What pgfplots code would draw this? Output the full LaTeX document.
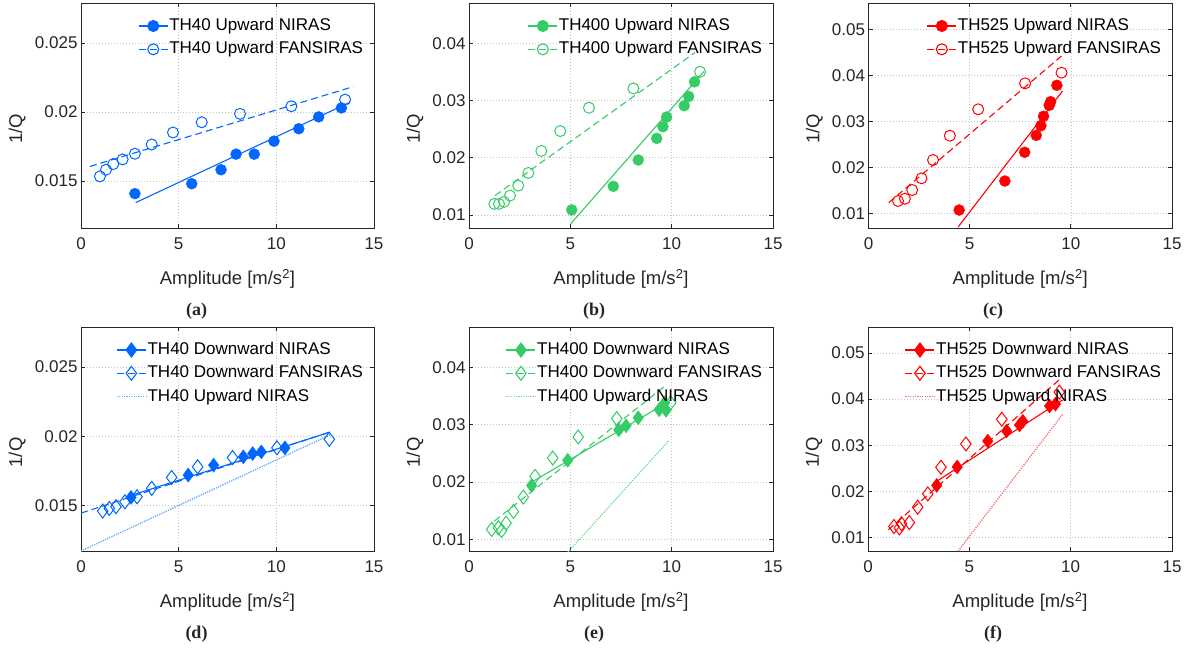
\documentclass[border=0pt]{standalone}
\usepackage{fontspec}
\setmainfont{Liberation Sans}
\newfontfamily\capfont{Liberation Serif}
\usepackage{pgfplots}
\pgfplotsset{compat=1.18}

\definecolor{cblue}{RGB}{0,102,255}
\definecolor{cgreen}{RGB}{51,204,102}
\definecolor{cred}{RGB}{255,0,0}
\definecolor{lblue}{RGB}{100,165,255}
\definecolor{lgreen}{RGB}{120,222,150}
\definecolor{lred}{RGB}{255,110,110}
\definecolor{axgray}{RGB}{38,38,38}
\definecolor{gridgray}{RGB}{195,195,195}

\pgfplotsset{
  panel/.style={
    scale only axis, anchor=south west,
    xmin=0, xmax=15, xtick={0,5,10,15},
    axis line style={draw=axgray, line width=0.7pt},
    tick style={draw=axgray, line width=0.7pt},
    tick align=inside, xtick pos=both, ytick pos=both,
    major tick length=4pt,
    grid=major,
    major grid style={draw=gridgray, dash pattern=on 1pt off 2pt, line width=0.6pt},
    ticklabel style={font=\fontsize{17}{20}\selectfont, text=axgray},
    xticklabel shift=6pt,
    /pgf/number format/assume math mode=true,
    scaled y ticks=false,
    y tick label style={/pgf/number format/fixed, /pgf/number format/precision=3},
    xlabel={Amplitude [m/s\textsuperscript{2}]},
    ylabel={1/Q},
    label style={font=\fontsize{18.5}{22}\selectfont, text=axgray},
    xlabel style={at={(axis description cs:0.5,0)}, anchor=center, yshift=-51pt},
    legend cell align=left,
    legend style={at={(rel axis cs:1,1)}, anchor=north east, xshift=-10pt, yshift=-14pt,
      draw=none, fill=none, inner sep=0pt, outer sep=0pt, row sep=5.3pt,
      font=\fontsize{17}{20}\selectfont,
      nodes={inner sep=1pt, text height=12.5pt, text depth=3.5pt}},
    legend image code/.code={\draw[mark repeat=2,mark phase=2] plot coordinates {(0pt,0pt) (14.5pt,0pt) (29pt,0pt)};},
  },
  narrowy/.style={ylabel style={at={(axis description cs:-0.218,0.44)}, anchor=center}},
  widey/.style={ylabel style={at={(axis description cs:-0.178,0.44)}, anchor=center}},
  lsolid/.style={line width=1.1pt, no marks, forget plot},
  ldash/.style={line width=1.1pt, dash pattern=on 7pt off 4pt, no marks, forget plot},
  ldot/.style={line width=1.4pt, dash pattern=on 1.2pt off 1.2pt, no marks, forget plot},
  fcirc/.style={only marks, mark=*, mark size=5.5pt, forget plot},
  ocirc/.style={only marks, mark=o, mark size=5.5pt, mark options={line width=1pt}, forget plot},
  fdiam/.style={only marks, mark=diamond*, mark size=7pt, forget plot},
  odiam/.style={only marks, mark=diamond, mark size=7pt, mark options={line width=1pt}, forget plot},
}

\begin{document}
\begin{tikzpicture}[x=1pt,y=1pt]
\useasboundingbox (0,0) rectangle (1193,653);

% (a)
\begin{axis}[panel, narrowy, at={(81pt,425pt)}, width=293pt, height=225pt,
  ymin=0.0116, ymax=0.0279, ytick={0.015,0.02,0.025}]
\addlegendimage{cblue, line width=1.1pt, mark=*, mark size=5.5pt}
\addlegendentry{TH40 Upward NIRAS}
\addlegendimage{cblue, line width=1.1pt, dash pattern=on 7pt off 4pt, mark=o, mark size=5.5pt, mark options={solid}}
\addlegendentry{TH40 Upward FANSIRAS}
\addplot[lsolid, cblue] coordinates {(2.8,0.01344)(13.77,0.02071)};
\addplot[ldash, cblue] coordinates {(0.46,0.01606)(13.94,0.02184)};
\addplot[fcirc, cblue] coordinates {(2.76,0.01409)(5.67,0.01481)(7.17,0.01582)(7.94,0.01695)(8.87,0.01695)(9.88,0.01789)(11.15,0.01879)(12.17,0.01965)(13.33,0.0203)};
\addplot[ocirc, cblue] coordinates {(0.97,0.01534)(1.28,0.01582)(1.65,0.01623)(2.13,0.01657)(2.76,0.01698)(3.62,0.01765)(4.71,0.01852)(6.18,0.01926)(8.14,0.01987)(10.77,0.02042)(13.52,0.0209)};
\end{axis}

% (b)
\begin{axis}[panel, widey, at={(469pt,425pt)}, width=304pt, height=225pt,
  ymin=0.0077, ymax=0.0471, ytick={0.01,0.02,0.03,0.04}]
\addlegendimage{cgreen, line width=1.1pt, mark=*, mark size=5.5pt}
\addlegendentry{TH400 Upward NIRAS}
\addlegendimage{cgreen, line width=1.1pt, dash pattern=on 7pt off 4pt, mark=o, mark size=5.5pt, mark options={solid}}
\addlegendentry{TH400 Upward FANSIRAS}
\addplot[lsolid, cgreen] coordinates {(5.02,0.00843)(11.59,0.0351)};
\addplot[ldash, cgreen] coordinates {(1.28,0.01337)(11.15,0.03842)};
\addplot[fcirc, cgreen] coordinates {(5.07,0.01087)(7.12,0.0150)(8.35,0.01961)(9.26,0.02339)(9.57,0.02543)(9.75,0.02713)(10.62,0.0291)(10.84,0.03073)(11.13,0.0333)};
\addplot[ocirc, cgreen] coordinates {(1.25,0.01192)(1.48,0.01192)(1.73,0.01227)(2.02,0.01337)(2.43,0.01512)(2.93,0.01734)(3.57,0.02119)(4.50,0.02468)(5.92,0.02876)(8.11,0.03213)(11.40,0.03505)};
\end{axis}

% (c)
\begin{axis}[panel, widey, at={(868.5pt,425pt)}, width=303.5pt, height=225pt,
  ymin=0.0069, ymax=0.0557, ytick={0.01,0.02,0.03,0.04,0.05}]
\addlegendimage{cred, line width=1.1pt, mark=*, mark size=5.5pt}
\addlegendentry{TH525 Upward NIRAS}
\addlegendimage{cred, line width=1.1pt, dash pattern=on 7pt off 4pt, mark=o, mark size=5.5pt, mark options={solid}}
\addlegendentry{TH525 Upward FANSIRAS}
\addplot[lsolid, cred] coordinates {(4.43,0.00712)(9.59,0.03661)};
\addplot[ldash, cred] coordinates {(1.0,0.01239)(9.54,0.0442)};
\addplot[fcirc, cred] coordinates {(4.48,0.0108)(6.74,0.01709)(7.72,0.02332)(8.29,0.0270)(8.52,0.02909)(8.65,0.03113)(8.93,0.03351)(9.0,0.03429)(9.31,0.03785)};
\addplot[ocirc, cred] coordinates {(1.46,0.01275)(1.80,0.01325)(2.16,0.01514)(2.62,0.01768)(3.19,0.02165)(4.02,0.02692)(5.42,0.03264)(7.74,0.03828)(9.54,0.04058)};
\end{axis}

% (d)
\begin{axis}[panel, narrowy, at={(81pt,102pt)}, width=293pt, height=224pt,
  ymin=0.0117, ymax=0.0279, ytick={0.015,0.02,0.025}]
\addlegendimage{cblue, line width=1.1pt, mark=diamond*, mark size=7pt}
\addlegendentry{TH40 Downward NIRAS}
\addlegendimage{cblue, line width=1.1pt, dash pattern=on 7pt off 4pt, mark=diamond, mark size=7pt, mark options={solid}}
\addlegendentry{TH40 Downward FANSIRAS}
\addlegendimage{lblue, line width=1.4pt, dash pattern=on 1.2pt off 1.2pt}
\addlegendentry{TH40 Upward NIRAS}
\addplot[ldot, lblue] coordinates {(0,0.0117)(12.75,0.0201)};
\addplot[lsolid, cblue] coordinates {(2.56,0.01572)(12.75,0.0203)};
\addplot[ldash, cblue] coordinates {(0,0.01444)(12.75,0.0203)};
\addplot[fdiam, cblue] coordinates {(2.56,0.01558)(5.49,0.01719)(6.79,0.01791)(8.31,0.01851)(8.79,0.01875)(9.23,0.01887)(10.44,0.01916)};
\addplot[odiam, cblue] coordinates {(1.11,0.01459)(1.45,0.01478)(1.79,0.0149)(2.25,0.01526)(2.87,0.01562)(3.62,0.01623)(4.64,0.01702)(5.97,0.01779)(7.76,0.01846)(10.03,0.01916)(12.71,0.01978)};
\end{axis}

% (e)
\begin{axis}[panel, widey, at={(469pt,102pt)}, width=304pt, height=224pt,
  ymin=0.0080, ymax=0.0470, ytick={0.01,0.02,0.03,0.04}]
\addlegendimage{cgreen, line width=1.1pt, mark=diamond*, mark size=7pt}
\addlegendentry{TH400 Downward NIRAS}
\addlegendimage{cgreen, line width=1.1pt, dash pattern=on 7pt off 4pt, mark=diamond, mark size=7pt, mark options={solid}}
\addlegendentry{TH400 Downward FANSIRAS}
\addlegendimage{lgreen, line width=1.4pt, dash pattern=on 1.2pt off 1.2pt}
\addlegendentry{TH400 Upward NIRAS}
\addplot[ldot, lgreen] coordinates {(4.88,0.0078)(9.88,0.0273)};
\addplot[lsolid, cgreen] coordinates {(3.1,0.0200)(9.9,0.0341)};
\addplot[ldash, cgreen] coordinates {(1.25,0.0132)(9.7,0.0368)};
\addplot[fdiam, cgreen] coordinates {(3.09,0.0194)(4.87,0.0238)(7.39,0.0291)(7.75,0.0298)(8.35,0.0312)(9.38,0.0326)(9.72,0.0325)(9.65,0.0338)};
\addplot[odiam, cgreen] coordinates {(1.12,0.01175)(1.45,0.01204)(1.61,0.01157)(1.83,0.01284)(2.19,0.01489)(2.68,0.01738)(3.26,0.0210)(4.13,0.02419)(5.39,0.02785)(7.29,0.03106)(9.95,0.0338)};
\end{axis}

% (f)
\begin{axis}[panel, widey, at={(868pt,102pt)}, width=304pt, height=224pt,
  ymin=0.0071, ymax=0.0556, ytick={0.01,0.02,0.03,0.04,0.05}]
\addlegendimage{cred, line width=1.1pt, mark=diamond*, mark size=7pt}
\addlegendentry{TH525 Downward NIRAS}
\addlegendimage{cred, line width=1.1pt, dash pattern=on 7pt off 4pt, mark=diamond, mark size=7pt, mark options={solid}}
\addlegendentry{TH525 Downward FANSIRAS}
\addlegendimage{lred, line width=1.4pt, dash pattern=on 1.2pt off 1.2pt}
\addlegendentry{TH525 Upward NIRAS}
\addplot[ldot, lred] coordinates {(4.45,0.0071)(9.62,0.0368)};
\addplot[lsolid, cred] coordinates {(3.25,0.0218)(9.6,0.0398)};
\addplot[ldash, cred] coordinates {(1.0,0.0117)(9.47,0.0443)};
\addplot[fdiam, cred] coordinates {(3.39,0.0213)(4.40,0.0253)(5.91,0.0309)(6.84,0.0331)(7.48,0.0344)(7.64,0.0352)(8.96,0.0385)(9.25,0.0389)};
\addplot[odiam, cred] coordinates {(1.28,0.0124)(1.55,0.0121)(1.65,0.0130)(2.04,0.01325)(2.45,0.01658)(2.95,0.01946)(3.60,0.02524)(4.83,0.03029)(6.60,0.03563)(9.44,0.0415)};
\end{axis}

% sub-figure captions
\begin{scope}[every node/.style={font=\capfont\bfseries\fontsize{18}{20}\selectfont, text=axgray}]
\node at (196.5,341.5) {(a)};
\node at (594,341.5) {(b)};
\node at (993,341.5) {(c)};
\node at (196.5,19) {(d)};
\node at (594,19) {(e)};
\node at (993,19) {(f)};
\end{scope}
\end{tikzpicture}
\end{document}
